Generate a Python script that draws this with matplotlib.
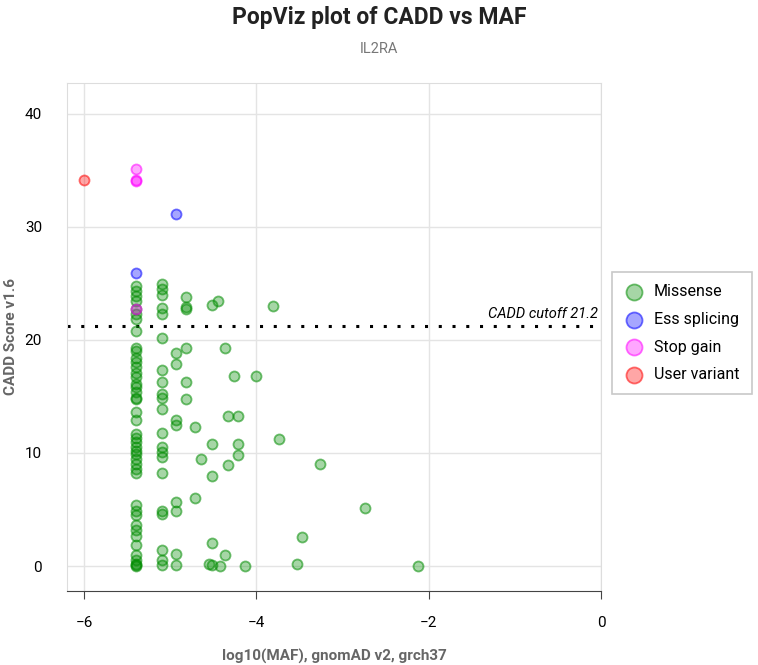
import matplotlib
matplotlib.use("Agg")
import matplotlib.pyplot as plt

# log10(MAF) and CADD score per variant
missense_x = (
    [-5.4] * 44
    + [-5.1] * 21
    + [-4.94] * 8
    + [-4.82] * 6
    + [-4.71, -4.71, -4.64, -4.55, -4.52, -4.52, -4.52, -4.52, -4.52, -4.45, -4.42,
       -4.37, -4.37, -4.33, -4.33, -4.26, -4.21, -4.21, -4.21, -4.13, -4.00,
       -3.81, -3.74, -3.53, -3.47, -3.26, -2.74, -2.12]
)
missense_y = (
    [24.8, 24.3, 23.9, 23.4, 22.7, 22.3, 21.8, 20.8,
     19.3, 19.0, 18.4, 18.0, 17.6, 17.1, 16.7, 16.1, 15.8, 15.4, 14.9, 14.8,
     13.6, 12.9, 11.7, 11.3, 11.0, 10.5, 10.2, 9.9, 9.5, 9.0, 8.6, 8.2,
     5.4, 4.9, 4.5, 3.6, 3.2, 2.7, 1.9, 1.0, 0.5, 0.2, 0.0, 0.1]
    + [24.9, 24.5, 24.0, 22.8, 22.3, 20.2, 17.3, 16.3, 15.2, 14.9, 13.9,
       11.8, 10.5, 10.1, 9.6, 8.2, 4.9, 4.6, 1.4, 0.5, 0.1]
    + [18.8, 17.9, 12.9, 12.5, 5.7, 4.9, 1.1, 0.1]
    + [23.8, 22.9, 22.7, 19.3, 16.3, 14.8]
    + [12.3, 6.0, 9.5, 0.2, 23.1, 10.8, 8.0, 2.0, 0.1, 23.4, 0.0,
       19.3, 1.0, 13.3, 8.9, 16.8, 13.3, 10.8, 9.8, 0.0, 16.8,
       23.0, 11.2, 0.15, 2.6, 9.0, 5.1, 0.0]
)
splice_x = [-5.4, -4.94]
splice_y = [25.9, 31.1]
stop_x = [-5.4, -5.4, -5.4, -5.4]
stop_y = [35.1, 34.1, 34.0, 22.7]
user_x = [-6.0]
user_y = [34.1]

cutoff = 21.2

fig = plt.figure(figsize=(7.58, 6.65), dpi=100)
ax = fig.add_axes([0.0884, 0.1113, 0.7045, 0.7639])

groups = [
    ("Missense", missense_x, missense_y, (0, 0.55, 0)),
    ("Ess splicing", splice_x, splice_y, (0, 0, 1)),
    ("Stop gain", stop_x, stop_y, (1, 0, 1)),
    ("User variant", user_x, user_y, (1, 0, 0)),
]
for name, xs, ys, c in groups:
    ax.scatter(xs, ys, s=52, facecolor=c + (0.35,), edgecolor=c + (0.55,),
               linewidths=1.3, label=name, zorder=3)

ax.axhline(cutoff, color="black", linestyle=(0, (1, 3.5)), linewidth=2.2, zorder=2)
ax.text(-0.04, cutoff + 0.5, "CADD cutoff 21.2", ha="right", va="bottom",
        fontstyle="italic", fontsize=10.5, family="Roboto")

ax.set_xlim(-6.2, 0)
ax.set_ylim(-2.2, 42.7)
ax.set_xticks([-6, -4, -2, 0])
ax.set_yticks([0, 10, 20, 30, 40])
ax.grid(True, color="#e4e4e4", linewidth=1)
ax.set_axisbelow(True)
for side in ["left", "top", "right"]:
    ax.spines[side].set_color("#dddddd")
ax.spines["bottom"].set_color("#444444")
ax.tick_params(axis="y", length=0, labelsize=11, pad=18)
ax.tick_params(axis="x", length=6, color="#444444", labelsize=11, pad=12)
for lab in ax.get_xticklabels() + ax.get_yticklabels():
    lab.set_family("Roboto")

ax.set_xlabel("log10(MAF), gnomAD v2, grch37", fontsize=11, fontweight="bold",
              color="#666666", family="Roboto", labelpad=14)
ax.set_ylabel("CADD Score v1.6", fontsize=11, fontweight="bold",
              color="#666666", family="Roboto")
ax.yaxis.set_label_coords(-0.092, 0.5)

fig.text(0.5, 0.974, "PopViz plot of CADD vs MAF", ha="center", va="center",
         fontsize=16.5, fontweight="bold", family="Roboto", color="#222222")
fig.text(0.5, 0.926, "IL2RA", ha="center", va="center", fontsize=10.5,
         family="Roboto", color="#777777")

leg = ax.legend(loc="upper left", bbox_to_anchor=(0.807, 0.591),
                bbox_transform=fig.transFigure, borderaxespad=0, frameon=True,
                fancybox=False, edgecolor="#bbbbbb", markerscale=1.6,
                prop={"family": "Roboto", "size": 11.5}, handletextpad=0.6,
                borderpad=0.75, labelspacing=0.8, handlelength=1.3)
leg.get_frame().set_linewidth(1.2)

fig.savefig("out.png", dpi=100)
